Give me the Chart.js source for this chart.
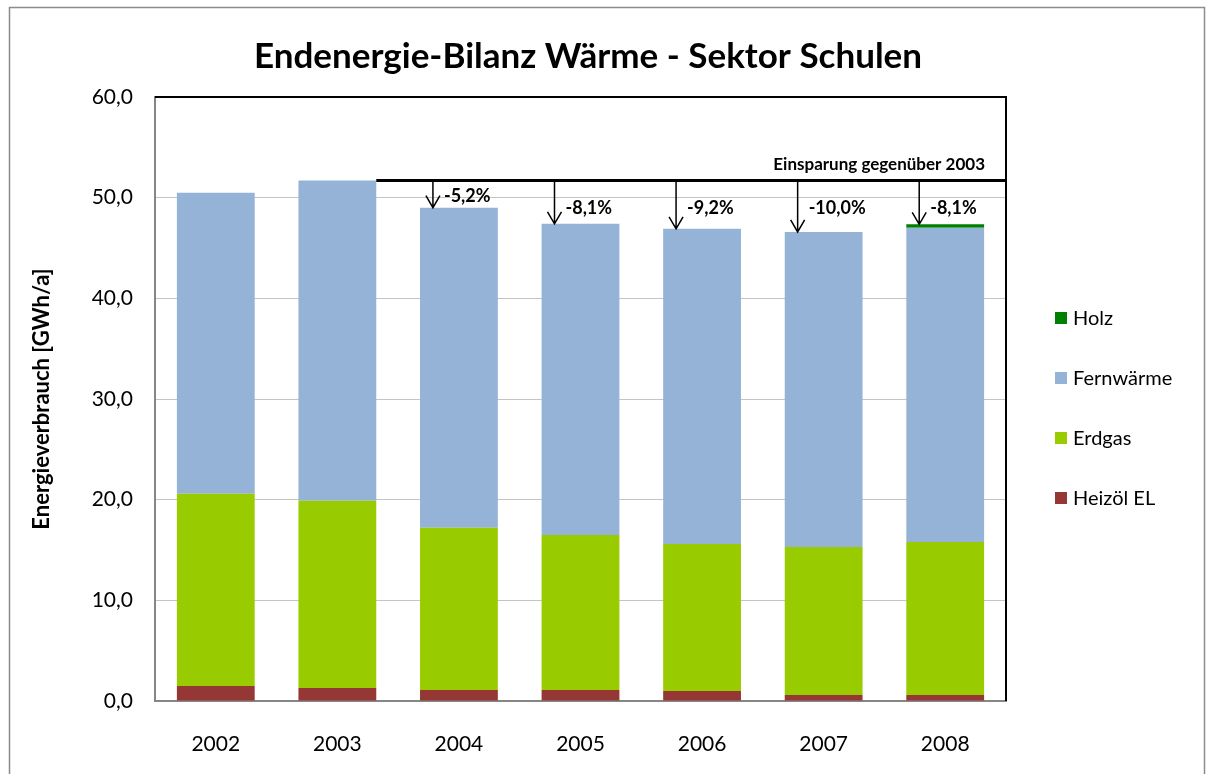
<!DOCTYPE html>
<html>
<head>
<meta charset="utf-8">
<script src="https://cdn.jsdelivr.net/npm/chart.js@4.4.0/dist/chart.umd.min.js"></script>
<style>
  html, body { margin: 0; padding: 0; background: #fff; }
  #wrap { width: 1206px; height: 774px; position: relative; }
</style>
</head>
<body>
<div id="wrap"><canvas id="chart" width="1206" height="774"></canvas></div>
<script>
// --- Daten ---
const years      = ['2002', '2003', '2004', '2005', '2006', '2007', '2008'];
const heizoel    = [1.5, 1.3, 1.1, 1.1, 1.0, 0.6, 0.6];
const erdgas     = [19.1, 18.6, 16.1, 15.4, 14.6, 14.7, 15.2];
const fernwaerme = [29.9, 31.8, 31.8, 30.9, 31.3, 31.3, 31.2];
const holz       = [0, 0, 0, 0, 0, 0, 0.35];
const savings    = ['', '', '-5,2%', '-8,1%', '-9,2%', '-10,0%', '-8,1%'];
const seriesNames = ['Heizöl EL', 'Erdgas', 'Fernwärme', 'Holz'];
const seriesColors = ['#953735', '#99CC00', '#95B3D7', '#008000'];

const totals = years.map((_, i) => heizoel[i] + erdgas[i] + fernwaerme[i] + holz[i]);
const FONT = 'Lato';

// Rahmen, Titel und Legende
const framePlugin = {
    id: 'frame',
    afterDraw(chart) {
        const { ctx } = chart;
        ctx.save();
        // äußerer Rahmen
        ctx.strokeStyle = '#8c8c8c';
        ctx.lineWidth = 1.5;
        ctx.strokeRect(9.5, 7.5, 1195, 800);

        // Titel
        ctx.fillStyle = '#000';
        ctx.font = `bold 35px ${FONT}`;
        ctx.textAlign = 'center';
        ctx.textBaseline = 'middle';
        ctx.fillText('Endenergie-Bilanz Wärme - Sektor Schulen', 588, 57);

        // Legende (umgekehrte Reihenfolge)
        ctx.font = `20px ${FONT}`;
        ctx.textAlign = 'left';
        for (let k = 0; k < 4; k++) {
            const s = 3 - k;
            const cy = 318 + k * 60;
            ctx.fillStyle = seriesColors[s];
            ctx.fillRect(1055, cy - 6, 12, 12);
            ctx.fillStyle = '#000';
            ctx.fillText(seriesNames[s], 1073, cy + 1);
        }
        ctx.restore();
    },
    afterDatasetsDraw(chart) {
        const { ctx, chartArea, scales: { x, y } } = chart;
        ctx.save();
        // Plotbereich oben / rechts
        ctx.strokeStyle = '#000';
        ctx.lineWidth = 2;
        ctx.beginPath();
        ctx.moveTo(chartArea.left, chartArea.top);
        ctx.lineTo(chartArea.right, chartArea.top);
        ctx.lineTo(chartArea.right, chartArea.bottom);
        ctx.stroke();

        // Einsparung gegenüber 2003
        const ref = chart.getDatasetMeta(2).data[1];
        const refY = y.getPixelForValue(totals[1]);
        ctx.lineWidth = 3;
        ctx.beginPath();
        ctx.moveTo(ref.x + ref.width / 2, refY);
        ctx.lineTo(chartArea.right, refY);
        ctx.stroke();

        ctx.fillStyle = '#000';
        ctx.font = `bold 17px ${FONT}`;
        ctx.textAlign = 'right';
        ctx.textBaseline = 'middle';
        ctx.fillText('Einsparung gegenüber 2003', 985, 165);

        ctx.font = `bold 18px ${FONT}`;
        ctx.textAlign = 'left';
        ctx.lineWidth = 1.5;
        savings.forEach((txt, i) => {
            if (!txt) return;
            const ax = x.getPixelForValue(i) - 26;
            const top = y.getPixelForValue(totals[i]);
            ctx.beginPath();
            ctx.moveTo(ax, refY);
            ctx.lineTo(ax, top);
            ctx.moveTo(ax - 7, top - 12);
            ctx.lineTo(ax, top);
            ctx.lineTo(ax + 7, top - 12);
            ctx.stroke();
            const ty = Math.min(top - 12, y.getPixelForValue(49.0));
            ctx.fillText(txt, ax + 11, ty);
        });
        ctx.restore();
    }
};

const datasets = [heizoel, erdgas, fernwaerme, holz].map((d, i) => ({
    label: seriesNames[i],
    data: d,
    backgroundColor: seriesColors[i],
    borderWidth: 0,
    categoryPercentage: 1.0,
    barPercentage: 0.64
}));

new Chart(document.getElementById('chart'), {
    type: 'bar',
    data: { labels: years, datasets },
    plugins: [framePlugin],
    options: {
        responsive: false,
        animation: false,
        layout: { padding: { left: 10, top: 97, right: 200, bottom: 0 } },
        plugins: {
            legend: { display: false },
            title: { display: false },
            tooltip: { enabled: false }
        },
        scales: {
            x: {
                stacked: true,
                grid: { display: false, drawTicks: false },
                border: { color: '#868686', width: 2 },
                ticks: { color: '#000', font: { family: FONT, size: 21 }, padding: 31 },
                afterFit: (s) => { s.height = 73; }
            },
            y: {
                stacked: true,
                min: 0, max: 60,
                grid: { color: '#c4c4c4', lineWidth: 1, drawTicks: false },
                border: { color: '#868686', width: 2 },
                ticks: {
                    stepSize: 10,
                    color: '#000',
                    padding: 22,
                    font: { family: FONT, size: 21 },
                    callback: (v) => v.toFixed(1).replace('.', ',')
                },
                title: {
                    display: true,
                    text: 'Energieverbrauch [GWh/a]',
                    color: '#000',
                    font: { family: FONT, size: 22, weight: 'bold' },
                    padding: { top: 19, bottom: 0 }
                },
                afterFit: (s) => { s.width = 145; }
            }
        }
    }
});
</script>
</body>
</html>
